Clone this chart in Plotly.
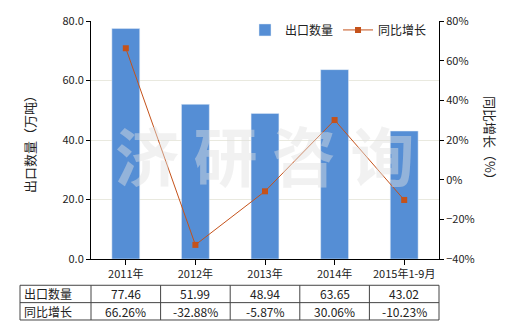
import plotly.graph_objects as go

categories = ["2011年", "2012年", "2013年", "2014年", "2015年1-9月"]
export_qty = [77.46, 51.99, 48.94, 63.65, 43.02]
yoy_growth = [66.26, -32.88, -5.87, 30.06, -10.23]
qty_labels = ["77.46", "51.99", "48.94", "63.65", "43.02"]
growth_labels = ["66.26%", "-32.88%", "-5.87%", "30.06%", "-10.23%"]
row_names = ["出口数量", "同比增长"]

FONT = "Noto Sans CJK SC, Noto Sans, sans-serif"
BAR = "#558ED5"
LINE = "#C5521A"

fig = go.Figure()
fig.add_trace(go.Bar(x=categories, y=export_qty, name="出口数量",
                     marker=dict(color=BAR), width=0.4))
fig.add_trace(go.Scatter(x=categories, y=yoy_growth, name="同比增长", yaxis="y2",
                         mode="lines+markers",
                         line=dict(color=LINE, width=1),
                         marker=dict(symbol="square", size=6, color=LINE)))

# plot area: x 91..439, y 19..259
W, H = 520, 330
L, R, T, B = 91, 81, 19, 71
pw, ph = W - L - R, H - T - B

def py(p):
    return (H - B - p) / ph

def px(p):
    return (p - L) / pw

shapes = []
y_top, y_mid, y_bot = py(285.5), py(303), py(320.5)
x_left = px(20)
lc = "#444444"
for yy in (y_top, y_mid, y_bot):
    shapes.append(dict(type="line", xref="paper", yref="paper", x0=x_left, x1=1,
                       y0=yy, y1=yy, line=dict(color=lc, width=1)))
for xx in [x_left] + [k / len(categories) for k in range(len(categories) + 1)]:
    shapes.append(dict(type="line", xref="paper", yref="paper", x0=xx, x1=xx,
                       y0=y_top, y1=y_bot, line=dict(color=lc, width=1)))

annotations = []
r1, r2 = (y_top + y_mid) / 2, (y_mid + y_bot) / 2
for name, yy in zip(row_names, (r1, r2)):
    annotations.append(dict(text=name, xref="paper", yref="paper", x=px(22), y=yy,
                            xanchor="left", yanchor="middle", showarrow=False,
                            font=dict(size=12, color="#222", family=FONT)))
for c, a, b in zip(categories, qty_labels, growth_labels):
    annotations.append(dict(text=a, xref="x", yref="paper", x=c, y=r1, showarrow=False,
                            xanchor="center", yanchor="middle",
                            font=dict(size=12, color="#222", family=FONT)))
    annotations.append(dict(text=b, xref="x", yref="paper", x=c, y=r2, showarrow=False,
                            xanchor="center", yanchor="middle",
                            font=dict(size=12, color="#222", family=FONT)))
# axis titles
annotations.append(dict(text="出口数量（万吨）", xref="paper", yref="paper", x=px(30), y=py(140),
                        textangle=-90, showarrow=False, xanchor="center", yanchor="middle",
                        font=dict(size=13, color="#222", family=FONT)))
annotations.append(dict(text="同比增长（%）", xref="paper", yref="paper", x=px(490), y=py(140),
                        textangle=90, showarrow=False, xanchor="center", yanchor="middle",
                        font=dict(size=13, color="#222", family=FONT)))
# watermark
annotations.append(dict(text="<b>济 研 咨 询</b>", xref="paper", yref="paper", x=px(265), y=py(152),
                        showarrow=False, xanchor="center", yanchor="middle",
                        font=dict(size=64, color="rgba(225,225,225,0.45)", family=FONT)))

fig.update_layout(
    width=W, height=H,
    margin=dict(l=L, r=R, t=T, b=B),
    paper_bgcolor="white", plot_bgcolor="white",
    font=dict(family=FONT, size=11, color="#222"),
    bargap=0.6,
    showlegend=True,
    legend=dict(orientation="h", x=px(245), y=py(28), xanchor="left", yanchor="middle",
                font=dict(size=12, color="#222", family=FONT), bgcolor="rgba(0,0,0,0)",
                itemwidth=30, tracegroupgap=0),
    xaxis=dict(showline=True, linecolor="#000", linewidth=1, ticks="outside", ticklen=5,
               tickcolor="#000", tickfont=dict(size=11), showgrid=False),
    yaxis=dict(range=[0, 80], dtick=20, tickformat=".1f", showline=True, linecolor="#000",
               linewidth=1, ticks="outside", ticklen=4, tickcolor="#000",
               showgrid=True, gridcolor="#e9e9df", gridwidth=1, zeroline=False,
               tickfont=dict(size=11)),
    yaxis2=dict(range=[-40, 80], dtick=20, ticksuffix="%", overlaying="y", side="right",
                showline=True, linecolor="#000", linewidth=1, ticks="outside", ticklen=4,
                tickcolor="#000", showgrid=False, zeroline=False, tickfont=dict(size=11)),
    shapes=shapes,
    annotations=annotations,
)

fig.write_html("out.html")
